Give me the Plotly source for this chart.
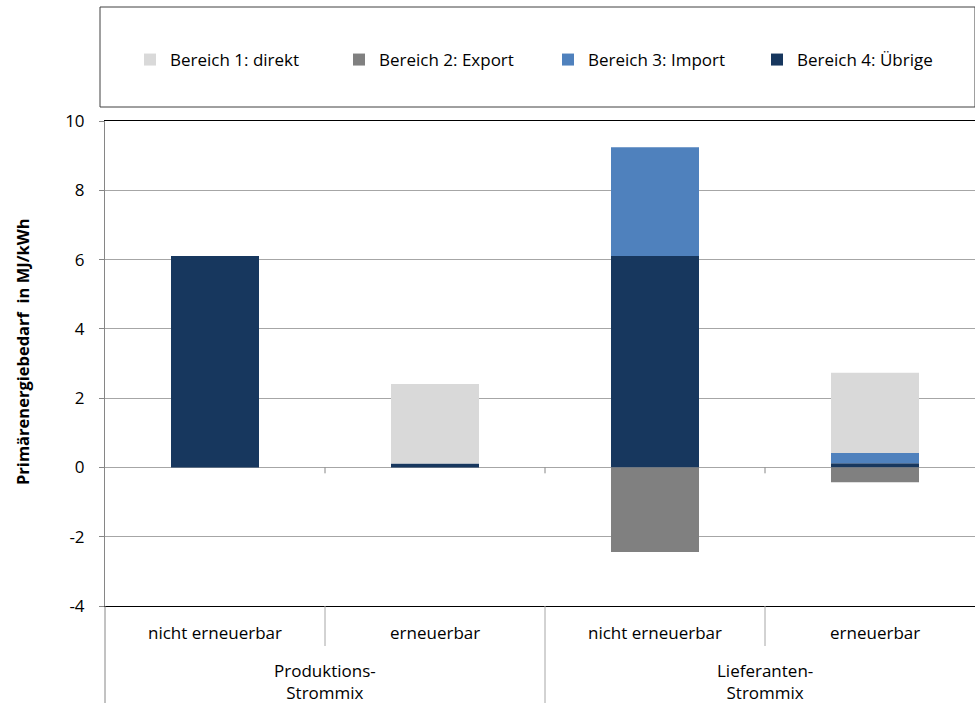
import plotly.graph_objects as go

outer = ["Produktions-<br>Strommix", "Produktions-<br>Strommix",
         "Lieferanten-<br>Strommix", "Lieferanten-<br>Strommix"]
inner = ["nicht erneuerbar", "erneuerbar", "nicht erneuerbar", "erneuerbar"]

direkt = [0.0, 2.30, 0.0, 2.31]
export = [0.0, 0.0, -2.44, -0.43]
importv = [0.0, 0.0, 3.14, 0.30]
uebrige = [6.10, 0.11, 6.10, 0.12]

names = ["Bereich 1: direkt", "Bereich 2: Export", "Bereich 3: Import", "Bereich 4: Übrige"]
colors = ["#D9D9D9", "#808080", "#4F81BD", "#17375E"]

ytickvals = [-4, -2, 0, 2, 4, 6, 8, 10]
yticktext = ["-4", "-2", "0", "2", "4", "6", "8", "10"]
ytitle = "Primärenergiebedarf  in MJ/kWh"

FONT = "Open Sans"
FS = 17
fig = go.Figure()
# stacking order: Übrige (bottom), Import, direkt (top); Export negative
for vals, nm, col, rank in [(uebrige, names[3], colors[3], 4),
                            (importv, names[2], colors[2], 3),
                            (direkt, names[0], colors[0], 1),
                            (export, names[1], colors[1], 2)]:
    fig.add_trace(go.Bar(x=[outer, inner], y=vals, name=nm,
                         marker=dict(color=col, line=dict(width=0)),
                         legendrank=rank))

# the original plot area runs slightly past the right edge of the 975px view
W, H = 985, 703
L, R, T, B = 105, 0, 121, 97
pw, ph = W - L - R, H - T - B

def px(x):
    return (x - L) / pw

def py(y):
    return (H - B - y) / ph

n = len(inner)
annotations = []
for i, lab in enumerate(inner):
    annotations.append(dict(text=lab, xref="paper", yref="paper", x=(i + 0.5) / n,
                            y=py(632), xanchor="center", yanchor="middle",
                            showarrow=False, font=dict(size=FS)))
groups = []
for i, g in enumerate(outer):
    if not groups or groups[-1][0] != g:
        groups.append([g, i, i])
    else:
        groups[-1][2] = i
for g, a, b in groups:
    annotations.append(dict(text=g, xref="paper", yref="paper", x=(a + b + 1) / 2 / n,
                            y=py(681), xanchor="center", yanchor="middle",
                            showarrow=False, font=dict(size=FS)))
annotations.append(dict(text="<b>" + ytitle + "</b>", xref="paper", yref="paper",
                        x=px(22), y=py(352), textangle=-90, xanchor="center",
                        yanchor="middle", showarrow=False, font=dict(size=16.5)))

DIV = "#A6A6A6"
shapes = [
    dict(type="rect", xref="paper", yref="paper", x0=px(100), x1=px(975),
         y0=py(107), y1=py(7), line=dict(color="#404040", width=1)),
]
# dividers: inner boundaries short, group boundaries full height
for k in range(n + 1):
    full = k == 0 or k == n or outer[k - 1] != outer[k]
    shapes.append(dict(type="line", xref="paper", yref="paper", x0=k / n, x1=k / n,
                       y0=0, y1=py(703 if full else 646),
                       line=dict(color=DIV if k else "#868686", width=1)))
    if 0 < k < n:
        shapes.append(dict(type="line", xref="paper", yref="y", x0=k / n, x1=k / n,
                           y0=0, y1=-0.17, line=dict(color="#868686", width=1)))

fig.update_layout(
    width=W, height=H,
    margin=dict(l=L, r=R, t=T, b=B, autoexpand=False),
    paper_bgcolor="white", plot_bgcolor="white",
    barmode="relative", bargap=0.6,
    font=dict(family=FONT, size=FS, color="black"),
    showlegend=True,
    legend=dict(orientation="h", x=px(130), xanchor="left", y=py(60), yanchor="middle",
                entrywidth=164, entrywidthmode="pixels", traceorder="normal",
                font=dict(size=FS), bgcolor="rgba(0,0,0,0)"),
    xaxis=dict(type="multicategory", showgrid=False, showline=True, linecolor="black",
               linewidth=1, mirror=True, ticks="", showticklabels=False,
               showdividers=False, automargin=False),
    yaxis=dict(range=[-4, 10], tickvals=ytickvals, ticktext=yticktext, showgrid=True,
               gridcolor="#A6A6A6", gridwidth=1, zeroline=True, zerolinecolor="#A6A6A6",
               zerolinewidth=1, showline=True, linecolor="#868686", linewidth=1,
               ticks="outside", ticklen=5, tickcolor="#868686", tickfont=dict(size=FS),
               ticklabelstandoff=11, automargin=False),
    shapes=shapes,
    annotations=annotations,
)

fig.write_html("out.html", config={"displayModeBar": False},
               post_script="document.body.style.margin='0';"
                           "document.body.style.overflow='hidden';")
